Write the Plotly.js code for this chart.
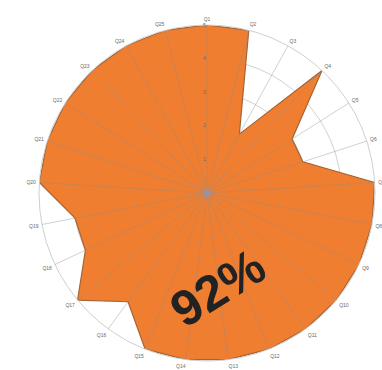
<!DOCTYPE html>
<html>
<head>
<meta charset="utf-8">
<script src="https://cdn.plot.ly/plotly-3.0.1.min.js"></script>
<style>html,body{margin:0;padding:0;background:#fff;}#chart{width:382px;height:370px;}</style>
</head>
<body>
<div id="chart"></div>
<script>
var categories = ["Q1","Q2","Q3","Q4","Q5","Q6","Q7","Q8","Q9","Q10","Q11","Q12","Q13","Q14","Q15","Q16","Q17","Q18","Q19","Q20","Q21","Q22","Q23","Q24","Q25"];
var scores = [5,5,2,5,3,3,5,5,5,5,5,5,5,5,5,4,5,4,4,5,5,5,5,5,5];
var radialTicks = [0,1,2,3,4,5];
var scoreLabel = "92%";

var trace = {
  type: "scatterpolar",
  subplot: "polar",
  r: scores.concat([scores[0]]),
  theta: categories.concat([categories[0]]),
  mode: "lines",
  fill: "toself",
  fillcolor: "rgb(240,126,48)",
  line: {color: "rgb(165,100,55)", width: 1.2},
  hoverinfo: "skip",
  showlegend: false
};

// overlay subplot that only carries the spokes, drawn above the fill
var spokeCarrier = {
  type: "scatterpolar",
  subplot: "polar2",
  r: scores,
  theta: categories,
  mode: "none",
  hoverinfo: "skip",
  showlegend: false
};

var layout = {
  width: 382, height: 370,
  margin: {l: 39, r: 7, t: 25, b: 9},
  paper_bgcolor: "#fff",
  font: {family: "Arial, Liberation Sans, sans-serif"},
  polar: {
    domain: {x: [0, 1], y: [0, 1]},
    bgcolor: "#fff",
    gridshape: "circular",
    angularaxis: {
      rotation: 90, direction: "clockwise",
      type: "category",
      categoryarray: categories,
      tickfont: {size: 5, color: "#6a6a6a"},
      ticks: "outside", ticklen: 2, tickcolor: "rgba(0,0,0,0)",
      showgrid: false,
      linecolor: "#cfcfcf", linewidth: 1, showline: true
    },
    radialaxis: {
      range: [0, 5], angle: 90, tickangle: 90,
      tickvals: radialTicks, ticktext: radialTicks.map(String),
      tickfont: {size: 5, color: "#6a6a6a"},
      ticks: "", showline: false,
      gridcolor: "#d2d2d2", gridwidth: 1,
      side: "counterclockwise"
    }
  },
  polar2: {
    domain: {x: [0, 1], y: [0, 1]},
    bgcolor: "rgba(0,0,0,0)",
    gridshape: "circular",
    angularaxis: {
      rotation: 90, direction: "clockwise",
      type: "category",
      categoryarray: categories,
      showticklabels: false, ticks: "",
      showgrid: true, gridcolor: "rgba(140,140,140,0.4)", gridwidth: 1,
      showline: false
    },
    radialaxis: {
      range: [0, 5], showticklabels: false, ticks: "",
      showgrid: false, showline: false
    }
  },
  shapes: [{
    type: "circle", xref: "paper", yref: "paper",
    x0: 0.5 - 4/336, x1: 0.5 + 4/336, y0: 0.5 - 4/336, y1: 0.5 + 4/336,
    fillcolor: "rgba(150,150,170,0.8)", line: {width: 0}
  }],
  annotations: [{
    text: "<b>" + scoreLabel + "</b>",
    xref: "paper", yref: "paper", x: 0.533, y: 0.217,
    xanchor: "center", yanchor: "middle",
    showarrow: false, textangle: -32,
    font: {size: 50, color: "#222", family: "Arial, Liberation Sans, sans-serif"}
  }]
};

Plotly.newPlot("chart", [trace, spokeCarrier], layout, {staticPlot: true, displayModeBar: false});
</script>
</body>
</html>
